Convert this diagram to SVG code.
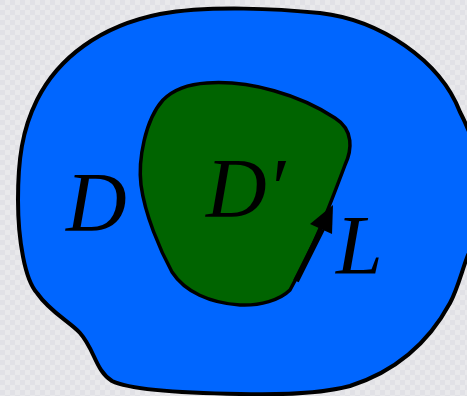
<svg xmlns="http://www.w3.org/2000/svg" width="467" height="396" viewBox="0 0 467 396">
<style>
.lbl{font-family:"Liberation Serif","Times New Roman",serif;font-style:italic;font-size:84px;fill:#000}
.outline{stroke:#000;stroke-linejoin:round}
</style>
<defs>
<pattern id="chk" width="10" height="10" patternUnits="userSpaceOnUse">
<rect width="10" height="10" fill="#e9e9eb"/>
<rect width="5" height="5" fill="#e1e1e6"/>
<rect x="5" y="5" width="5" height="5" fill="#e1e1e6"/>
</pattern>
</defs>
<rect width="467" height="396" fill="url(#chk)"/>
<g id="D">
<path class="outline" fill="#0066ff" stroke-width="4" d="M 320,13 C 380,20 440,60 460,112 C 480,150 494,215 468,255 C 462,270 458,288 450,303 C 430,340 400,370 350,386 C 320,394 280,395 240,394 C 180,393 130,390 112,381 C 95,370 95,350 80,333 C 70,322 50,312 37,293 C 25,280 18,240 18,200 C 18,160 22,130 37,100 C 58,58 100,26 160,14 C 210,5 280,9 320,13 Z"/>
<text class="lbl" x="66" y="231">D</text>
</g>
<g id="Dprime">
<path class="outline" fill="#006400" stroke-width="3.5" d="M 207,83 C 250,80 300,95 335,118 C 354,130 352,150 345,165 C 330,205 315,245 290,290 C 280,300 260,306 240,305 C 210,303 185,292 172,272 C 160,250 145,215 141,185 C 138,160 145,120 163,100 C 175,88 190,84 207,83 Z"/>
<text class="lbl" x="206" y="217">D′</text>
</g>
<g id="connectors">
<line x1="296" y1="281" x2="322" y2="229" stroke="#000" stroke-width="6"/>
<polygon points="333,205 310,224 332,234" fill="#000"/>
</g>
<g id="L">
<text class="lbl" x="336" y="274">L</text>
</g>
</svg>
